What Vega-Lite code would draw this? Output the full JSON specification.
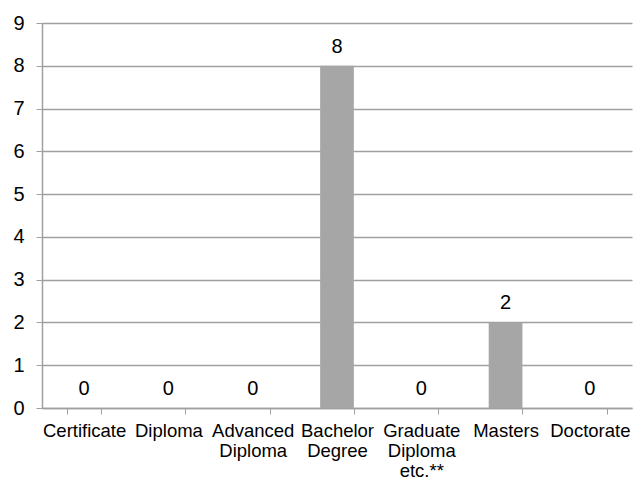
{
  "$schema": "https://vega.github.io/schema/vega-lite/v6.json",
  "autosize": {"type": "none"},
  "width": 590,
  "height": 385,
  "padding": {"left": 42, "top": 23, "right": 3, "bottom": 74},
  "background": "white",
  "config": {
    "view": {"stroke": null},
    "font": "Liberation Sans"
  },
  "data": {
    "values": [
      {"category": "Certificate", "count": 0},
      {"category": "Diploma", "count": 0},
      {"category": "Advanced Diploma", "count": 0},
      {"category": "Bachelor Degree", "count": 8},
      {"category": "Graduate Diploma etc.**", "count": 0},
      {"category": "Masters", "count": 2},
      {"category": "Doctorate", "count": 0}
    ]
  },
  "encoding": {
    "x": {
      "field": "category",
      "type": "nominal",
      "sort": null,
      "scale": {"paddingInner": 0.6, "paddingOuter": 0.3},
      "axis": {
        "title": null,
        "labelAngle": 0,
        "labelExpr": "split(datum.label, ' ')",
        "labelFont": "Liberation Sans",
        "labelFontSize": 18.5,
        "labelColor": "black",
        "labelLineHeight": 20,
        "labelPadding": 7,
        "labelBaseline": "top",
        "tickBand": "extent",
        "tickSize": 6,
        "tickColor": "#a0a0a0",
        "domainColor": "#a0a0a0",
        "domainWidth": 1.5,
        "grid": false
      }
    },
    "y": {
      "field": "count",
      "type": "quantitative",
      "scale": {"domain": [0, 9], "nice": false},
      "axis": {
        "title": null,
        "values": [0, 1, 2, 3, 4, 5, 6, 7, 8, 9],
        "labelFont": "Liberation Sans",
        "labelFontSize": 20,
        "labelColor": "black",
        "labelPadding": 12,
        "tickSize": 6,
        "tickColor": "#a0a0a0",
        "domainColor": "#a0a0a0",
        "domainWidth": 1.5,
        "gridColor": "#a0a0a0",
        "gridWidth": 1.3
      }
    }
  },
  "layer": [
    {
      "mark": {"type": "bar", "color": "#a6a6a6"}
    },
    {
      "mark": {"type": "text", "baseline": "bottom", "dy": -9, "font": "Liberation Sans", "fontSize": 20, "color": "black"},
      "encoding": {"text": {"field": "count", "type": "quantitative"}}
    }
  ]
}
